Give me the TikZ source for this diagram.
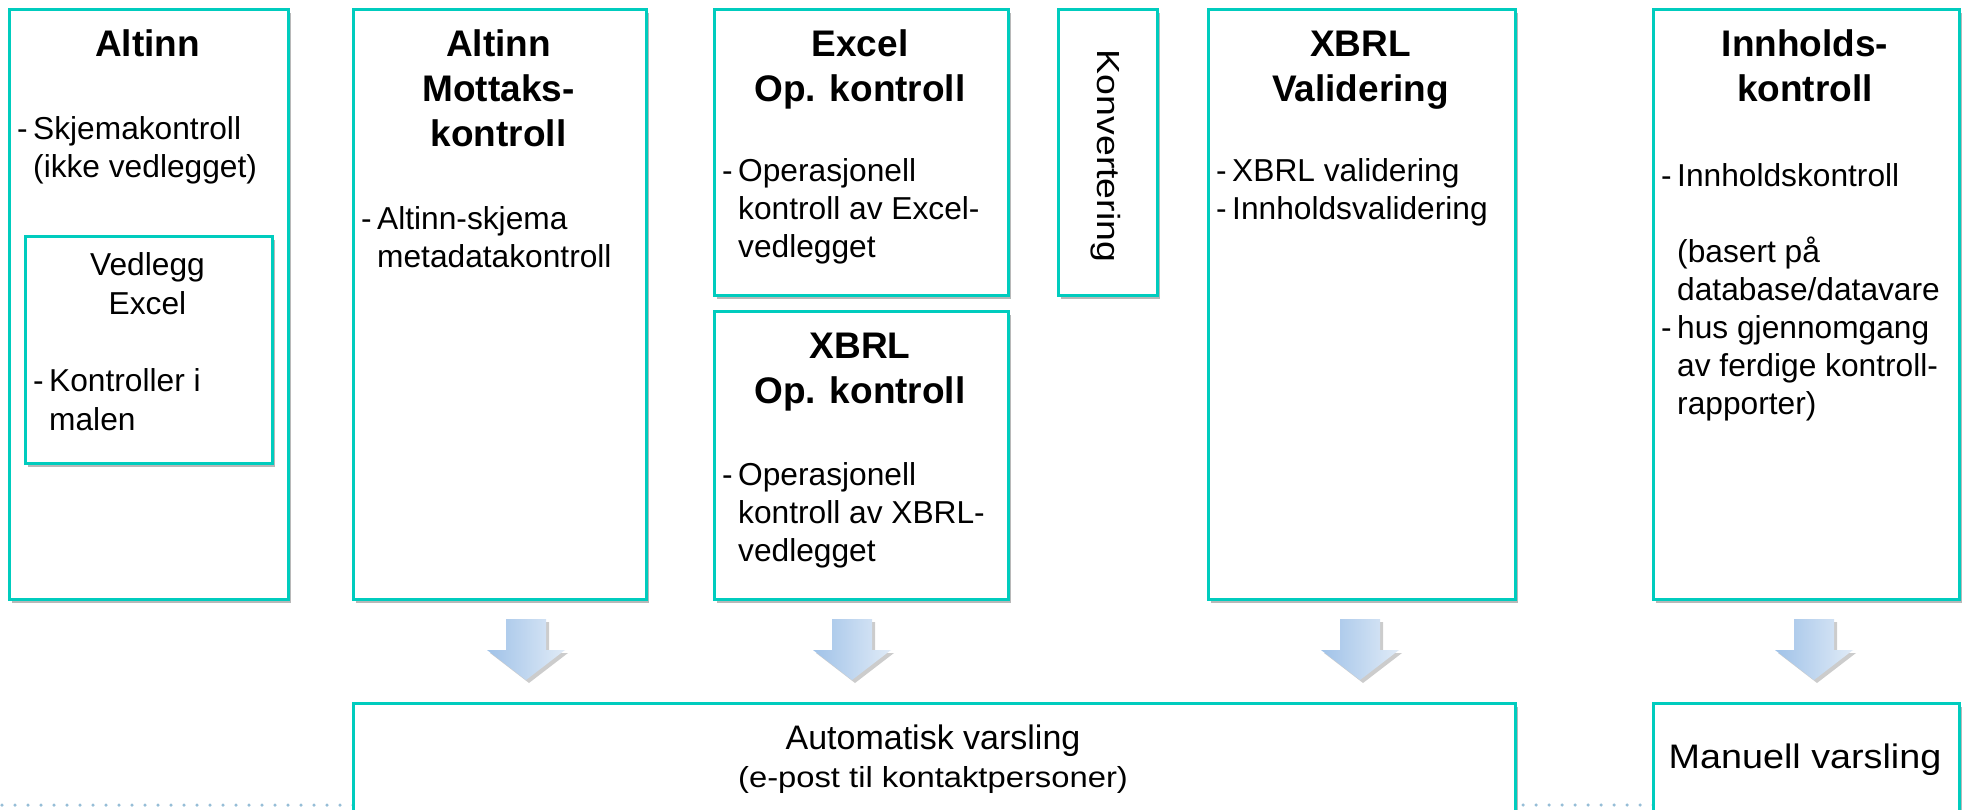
\documentclass[tikz,border=0pt]{standalone}
\usepackage{fontspec}
\setmainfont{Liberation Sans}
\usetikzlibrary{shadows}
\definecolor{boxline}{RGB}{0,204,190}
\definecolor{arrL}{RGB}{160,194,232}
\definecolor{arrR}{RGB}{224,235,247}
\definecolor{dotc}{RGB}{150,190,215}
\newcounter{tnc}
\newcommand\ttlline[3]{\stepcounter{tnc}\node[ttl] (t\arabic{tnc}) at (#1,#2) {#3};}
\newcommand\bodline[3]{\stepcounter{tnc}\node[bod] (t\arabic{tnc}) at (#1,#2) {#3};}
\newcommand\dashline[3]{\stepcounter{tnc}\node[bod] (d\arabic{tnc}) at (#1,#2) {-};\node[bod] (t\arabic{tnc}) at (#1+16,#2) {#3};}
\newcommand\blockarrow[2]{%
  \begin{scope}[shift={(#1,0)}]
    \fill[black, opacity=0.2] (-20+3,619+3) -- (20+3,619+3) -- (20+3,650+3) -- (39+3,650+3) -- (0+3,680+3) -- (-39+3,650+3) -- (-20+3,650+3) -- cycle;
    \shade[left color=arrL, right color=arrR] (-20,619) -- (20,619) -- (20,650) -- (39,650) -- (0,680) -- (-39,650) -- (-20,650) -- cycle;
    \coordinate (#2) at (0,680);
  \end{scope}}
\tikzset{
  box/.style={draw=boxline, line width=2.6pt, fill=white, rectangle, inner sep=0pt, anchor=north west,
    drop shadow={shadow xshift=2.5pt, shadow yshift=-3.5pt, fill=black, opacity=0.28}},
  ttl/.style={font=\fontsize{37}{44}\selectfont\bfseries, anchor=base, inner sep=0pt},
  bod/.style={font=\fontsize{31.7}{38}\selectfont, anchor=base west, inner sep=0pt},
}
\begin{document}
\begin{tikzpicture}[x=1pt, y=-1pt]
\useasboundingbox (0,0) rectangle (1964,809);
\clip (0,0) rectangle (1964,809);
\fill[white] (0,0) rectangle (1964,809);
% dotted baseline
\coordinate (dl) at (2,805);
\coordinate (dr) at (1964,805);
\draw[dotc, line width=3.5pt, line cap=round, dash pattern=on 0pt off 13pt] (dl) -- (dr);

% boxes
\node[box, minimum width=279pt, minimum height=590pt] (altinn) at (8,8) {};
\node[box, minimum width=247pt, minimum height=227pt] (vedlegg) at (24,235) {};
\node[box, minimum width=293pt, minimum height=590pt] (mottak) at (352,8) {};
\node[box, minimum width=294pt, minimum height=286pt] (excelop) at (713,8) {};
\node[box, minimum width=294pt, minimum height=288pt] (xbrlop) at (713,310) {};
\node[box, minimum width=99pt, minimum height=286pt] (konv) at (1057,8) {};
\node[box, minimum width=307pt, minimum height=590pt] (xbrlval) at (1207,8) {};
\node[box, minimum width=306pt, minimum height=590pt] (innh) at (1652,8) {};
\node[box, minimum width=1162pt, minimum height=108pt] (auto) at (352,702) {};
\node[box, minimum width=306pt, minimum height=108pt] (manuell) at (1652,702) {};

% Altinn
\ttlline{147.5}{56}{Altinn}
\dashline{17}{139}{Skjemakontroll}
\bodline{33}{177}{(ikke vedlegget)}
% Vedlegg
\node[bod, anchor=base] (v1) at (147.5,275) {Vedlegg};
\node[bod, anchor=base] (v2) at (147.5,314) {Excel};
\dashline{33}{391}{Kontroller i}
\bodline{49}{430}{malen}
% Mottak
\ttlline{498.5}{56}{Altinn}
\ttlline{498.5}{101}{Mottaks-}
\ttlline{498.5}{146}{kontroll}
\dashline{361}{229}{Altinn-skjema}
\bodline{377}{267}{metadatakontroll}
% Excel op
\ttlline{860}{56}{Excel}
\ttlline{860}{101}{Op. kontroll}
\dashline{722}{181}{Operasjonell}
\bodline{738}{219}{kontroll av Excel-}
\bodline{738}{257}{vedlegget}
% XBRL op
\ttlline{860}{358}{XBRL}
\ttlline{860}{403}{Op. kontroll}
\dashline{722}{485}{Operasjonell}
\bodline{738}{523}{kontroll av XBRL-}
\bodline{738}{561}{vedlegget}
% Konvertering
\node[rotate=-90, font=\fontsize{32}{38}\selectfont, inner sep=0pt] (konvtxt) at (1106,156) {\scalebox{1.17}[1]{Konvertering}};
% XBRL val
\ttlline{1360.5}{56}{XBRL}
\ttlline{1360.5}{101}{Validering}
\dashline{1216}{181}{XBRL validering}
\dashline{1216}{219}{Innholdsvalidering}
% Innhold
\ttlline{1805}{56}{Innholds-}
\ttlline{1805}{101}{kontroll}
\dashline{1661}{186}{Innholdskontroll}
\bodline{1677}{262}{(basert på}
\bodline{1677}{300}{database/datavare}
\dashline{1661}{338}{hus gjennomgang}
\bodline{1677}{376}{av ferdige kontroll-}
\bodline{1677}{414}{rapporter)}
% bottom
\node[font=\fontsize{34}{40}\selectfont, anchor=base, inner sep=0pt] (autot1) at (933,749) {Automatisk varsling};
\node[font=\fontsize{29}{35}\selectfont, anchor=base, inner sep=0pt] (autot2) at (933,787) {\scalebox{1.13}[1]{(e-post til kontaktpersoner)}};
\node[font=\fontsize{34}{40}\selectfont, anchor=base, inner sep=0pt] (mant) at (1805,768) {\scalebox{1.11}[1]{Manuell varsling}};

% arrows
\blockarrow{526}{a1}
\blockarrow{852}{a2}
\blockarrow{1360}{a3}
\blockarrow{1814}{a4}
\end{tikzpicture}
\end{document}
